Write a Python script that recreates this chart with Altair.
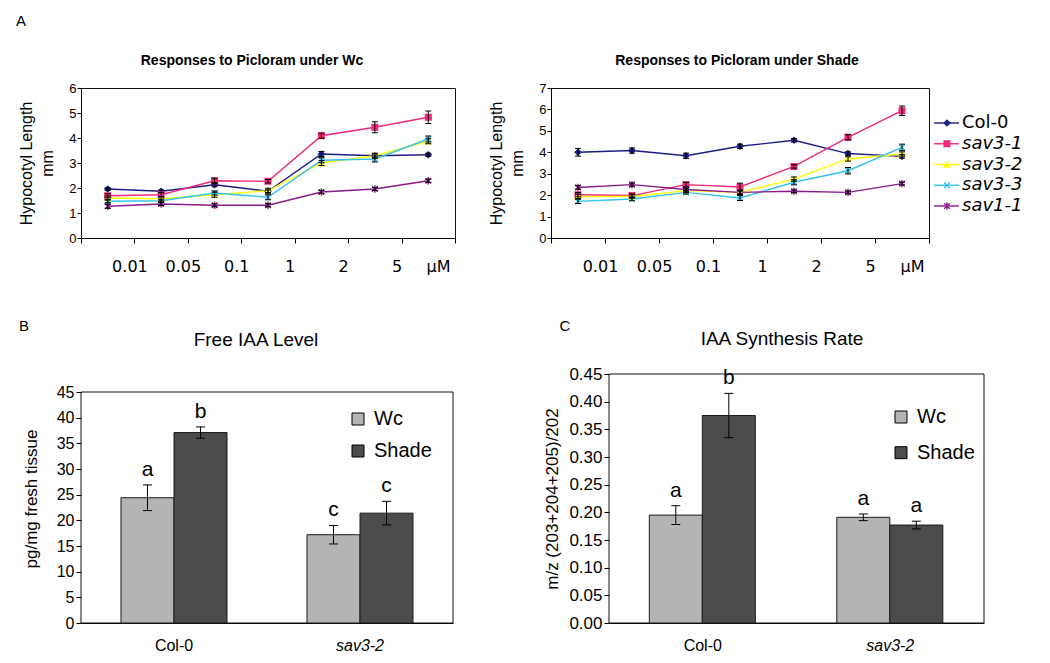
import json
import altair as alt
import pandas as pd

FONT = "Liberation Sans"

# ---------------- Panel A data ----------------
series = ["Col-0", "sav3-1", "sav3-2", "sav3-3", "sav1-1"]
series_colors = ["#1c1c84", "#f0287d", "#ffff00", "#33c3ec", "#8a1a8a"]
series_shapes = ["diamond", "square", "triangle-up",
                 "M-1,-1L1,1M-1,1L1,-1",
                 "M-1,-1L1,1M-1,1L1,-1M0,-1.3L0,1.3"]
dose_tick_labels = ["", "0.01", "0.05", "0.1", "1", "2", "5", "μM"]

wc_col0 = [1.96, 1.87, 2.13, 1.87, 3.36, 3.29, 3.33]
wc_sav31 = [1.69, 1.73, 2.29, 2.27, 4.09, 4.43, 4.83]
wc_sav32 = [1.60, 1.57, 1.73, 1.89, 3.00, 3.29, 3.87]
wc_sav33 = [1.47, 1.49, 1.80, 1.63, 3.11, 3.16, 3.96]
wc_sav11 = [1.27, 1.36, 1.31, 1.31, 1.84, 1.96, 2.29]

wc_col0_err = [0.05, 0.05, 0.08, 0.05, 0.10, 0.08, 0.06]
wc_sav31_err = [0.08, 0.08, 0.10, 0.07, 0.10, 0.22, 0.25]
wc_sav32_err = [0.08, 0.08, 0.10, 0.10, 0.10, 0.10, 0.10]
wc_sav33_err = [0.06, 0.06, 0.08, 0.10, 0.10, 0.12, 0.12]
wc_sav11_err = [0.08, 0.06, 0.06, 0.06, 0.06, 0.06, 0.06]

sh_col0 = [4.00, 4.08, 3.84, 4.28, 4.56, 3.94, 3.81]
sh_sav31 = [2.02, 1.98, 2.49, 2.38, 3.34, 4.70, 5.94]
sh_sav32 = [1.94, 1.94, 2.21, 2.13, 2.75, 3.69, 3.92]
sh_sav33 = [1.71, 1.82, 2.13, 1.87, 2.60, 3.14, 4.23]
sh_sav11 = [2.36, 2.49, 2.26, 2.13, 2.18, 2.13, 2.54]

sh_col0_err = [0.18, 0.12, 0.12, 0.10, 0.08, 0.08, 0.08]
sh_sav31_err = [0.10, 0.08, 0.10, 0.18, 0.08, 0.12, 0.22]
sh_sav32_err = [0.10, 0.08, 0.08, 0.10, 0.10, 0.10, 0.10]
sh_sav33_err = [0.10, 0.08, 0.08, 0.12, 0.12, 0.15, 0.15]
sh_sav11_err = [0.08, 0.07, 0.07, 0.07, 0.06, 0.06, 0.06]

# ---------------- Panels B / C data ----------------
genotypes = ["Col-0", "sav3-2"]
conditions = ["Wc", "Shade"]
bar_fill = ["#b4b4b4", "#4b4b4b"]

free_iaa = [24.4, 37.1, 17.2, 21.4]
free_iaa_err = [2.5, 1.1, 1.8, 2.3]
free_iaa_letters = ["a", "b", "c", "c"]

iaa_rate = [0.195, 0.375, 0.191, 0.177]
iaa_rate_err = [0.017, 0.040, 0.006, 0.007]
iaa_rate_letters = ["a", "b", "a", "a"]


def long_df(vals, errs):
    rows = []
    for s, vl, el in zip(series, vals, errs):
        for i, (v, e) in enumerate(zip(vl, el)):
            rows.append(dict(series=s, step=i, val=v, lo=v - e, hi=v + e))
    return pd.DataFrame(rows)


def label_at(text, dx, dy, size, weight="normal", font=FONT):
    """Panel letter / panel title, placed relative to the plot area."""
    return alt.Chart(pd.DataFrame({"t": [text]})).mark_text(
        font=font, fontSize=size, fontWeight=weight, align="center", baseline="middle",
        color="black"
    ).encode(text="t:N", x=alt.value(dx), y=alt.value(dy))


def line_panel(df, title, ymax, width, title_x, letter=None, legend=False):
    xaxis = alt.Axis(
        values=[i - 0.5 for i in range(8)],
        labelExpr="%s[round(datum.value + 0.5)]" % json.dumps(dose_tick_labels, ensure_ascii=False),
        title=None, grid=False, tickSize=5, labelPadding=15,
        labelFont="DejaVu Sans", labelFontSize=16, labelOffset=-5, labelFlush=True,
    )
    xenc = alt.X("step:Q", scale=alt.Scale(domain=[-0.5, 6.5], nice=False, zero=False), axis=xaxis)
    yaxis = alt.Axis(
        values=list(range(ymax + 1)), format="d", title=["Hypocotyl Length", "mm"],
        grid=False, tickSize=4, labelPadding=1, labelFontSize=13, labelFlush=False,
        titleFontSize=16, titleFontWeight="normal", titleLineHeight=21, titlePadding=13,
    )

    def yenc(f):
        return alt.Y(f"{f}:Q", scale=alt.Scale(domain=[0, ymax], nice=False), axis=yaxis)

    color = alt.Color("series:N", scale=alt.Scale(domain=series, range=series_colors), legend=None)
    shape = alt.Shape("series:N", scale=alt.Scale(domain=series, range=series_shapes), legend=None)
    fill = alt.Fill("series:N", scale=alt.Scale(domain=series, range=series_colors), legend=None)
    stroke = alt.Stroke("series:N", scale=alt.Scale(domain=series, range=series_colors), legend=None)

    base = alt.Chart(df)
    lines = base.mark_line(strokeWidth=1.4).encode(x=xenc, y=yenc("val"), color=color, order="step:Q")
    pts = base.mark_point(size=32, strokeWidth=1.4, opacity=1).encode(
        x=xenc, y=yenc("val"), shape=shape, fill=fill, stroke=stroke)
    err = base.mark_rule(color="black", strokeWidth=1).encode(x=xenc, y=yenc("lo"), y2="hi")
    cap_lo = base.mark_tick(color="black", orient="horizontal", size=6, thickness=1, opacity=1).encode(
        x=xenc, y=yenc("lo"))
    cap_hi = base.mark_tick(color="black", orient="horizontal", size=6, thickness=1, opacity=1).encode(
        x=xenc, y=yenc("hi"))
    layers = [lines, pts, err, cap_lo, cap_hi,
              label_at(title, title_x, -27, 14, weight="bold")]
    if letter:
        layers.append(label_at(letter, -60, -67, 15))
    chart = alt.layer(*layers)

    if legend:
        ldf = pd.DataFrame({"series": series, "idx": list(range(len(series)))})
        ly = alt.Y("idx:Q", scale=alt.Scale(domain=[0, len(series) - 1], range=[35, 118]),
                   axis=None)
        lbase = alt.Chart(ldf)
        l_line = lbase.mark_rule(strokeWidth=1.4).encode(
            x=alt.value(383), x2=alt.value(408), y=ly, color=color)
        l_pts = lbase.mark_point(size=32, strokeWidth=1.4, opacity=1).encode(
            x=alt.value(396), y=ly, shape=shape, fill=fill, stroke=stroke)
        l_txt1 = lbase.transform_filter("datum.series == 'Col-0'").mark_text(
            align="left", baseline="middle", font="DejaVu Sans", fontSize=18, color="black"
        ).encode(x=alt.value(411), y=ly, text="series:N")
        l_txt2 = lbase.transform_filter("datum.series != 'Col-0'").mark_text(
            align="left", baseline="middle", font="DejaVu Sans", fontSize=18, fontStyle="italic",
            color="black"
        ).encode(x=alt.value(411), y=ly, text="series:N")
        leg = alt.layer(l_line, l_pts, l_txt1, l_txt2)
        chart = alt.layer(chart, leg).resolve_scale(y="independent")

    return chart.properties(width=width, height=150)


def bar_df(vals, errs, letters):
    rows = []
    k = 0
    for g in genotypes:
        for c in conditions:
            rows.append(dict(genotype=g, cond=c, val=vals[k], lo=vals[k] - errs[k],
                             hi=vals[k] + errs[k], letter=letters[k]))
            k += 1
    return pd.DataFrame(rows)


def bar_panel(df, title, ymax, yvals, fmt, ytitle, width, height, box_height, title_xy,
              letter, letter_xy, legend_xy, row_pad, lab_size, title_pad):
    # The framed plot box is box_height tall and sits at the bottom of the panel area.
    dom_top = ymax * height / box_height
    x = alt.X("genotype:N", sort=genotypes,
              scale=alt.Scale(domain=genotypes, paddingInner=0.43, paddingOuter=0.215),
              axis=alt.Axis(title=None, labelAngle=0, ticks=False, labelPadding=14,
                            labelFontSize=16,
                            labelFontStyle={"condition": {"test": "datum.value == 'sav3-2'",
                                                          "value": "italic"},
                                            "value": "normal"}))
    xo = alt.XOffset("cond:N", sort=conditions,
                     scale=alt.Scale(domain=conditions, paddingInner=0, paddingOuter=0))
    yaxis = alt.Axis(values=yvals, format=fmt, title=ytitle, grid=False, tickSize=5,
                     labelPadding=2, labelFontSize=lab_size, titleFontSize=17,
                     titleFontWeight="normal", titlePadding=title_pad, labelFlush=False,
                     domain=False)

    def yenc(f):
        return alt.Y(f"{f}:Q", scale=alt.Scale(domain=[0, dom_top], nice=False), axis=yaxis)

    color = alt.Color("cond:N", sort=conditions,
                      scale=alt.Scale(domain=conditions, range=bar_fill),
                      legend=alt.Legend(title=None, orient="none", legendX=legend_xy[0],
                                        legendY=legend_xy[1], direction="vertical",
                                        symbolType="square", symbolSize=144,
                                        symbolStrokeColor="black", symbolStrokeWidth=1,
                                        symbolOpacity=1, labelFontSize=20, labelFont=FONT,
                                        labelColor="black", rowPadding=row_pad, labelOffset=6,
                                        padding=0))
    base = alt.Chart(df)
    frame = alt.Chart(pd.DataFrame({"top": [ymax]})).mark_rect(
        fill="white", fillOpacity=0, stroke="#111", strokeWidth=1
    ).encode(x=alt.value(0), x2=alt.value(width), y=yenc("top"), y2=alt.datum(0))
    bars = base.mark_bar(stroke="#1a1a1a", strokeWidth=1, opacity=1).encode(
        x=x, xOffset=xo, y=yenc("val"), color=color)
    err = base.mark_rule(color="black", strokeWidth=1).encode(x=x, xOffset=xo, y=yenc("lo"), y2="hi")
    cap_lo = base.mark_tick(color="black", orient="horizontal", size=9, thickness=1, opacity=1).encode(
        x=x, xOffset=xo, y=yenc("lo"))
    cap_hi = base.mark_tick(color="black", orient="horizontal", size=9, thickness=1, opacity=1).encode(
        x=x, xOffset=xo, y=yenc("hi"))
    txt = base.mark_text(baseline="alphabetic", dy=-9, fontSize=21, font=FONT, color="black").encode(
        x=x, xOffset=xo, y=yenc("hi"), text="letter:N")
    return alt.layer(
        frame, bars, err, cap_lo, cap_hi, txt,
        label_at(title, title_xy[0], title_xy[1], 19),
        label_at(letter, letter_xy[0], letter_xy[1], 15),
    ).properties(width=width, height=height,
                 view=alt.ViewBackground(stroke="transparent"))


df_wc = long_df([wc_col0, wc_sav31, wc_sav32, wc_sav33, wc_sav11],
                [wc_col0_err, wc_sav31_err, wc_sav32_err, wc_sav33_err, wc_sav11_err])
df_sh = long_df([sh_col0, sh_sav31, sh_sav32, sh_sav33, sh_sav11],
                [sh_col0_err, sh_sav31_err, sh_sav32_err, sh_sav33_err, sh_sav11_err])

top_left = line_panel(df_wc, "Responses to Picloram under Wc", 6, 374, 171, letter="A")
top_right = line_panel(df_sh, "Responses to Picloram under Shade", 7, 378, 186, legend=True)

panel_b = bar_panel(bar_df(free_iaa, free_iaa_err, free_iaa_letters), "Free IAA Level",
                    45, [5 * i for i in range(10)], "d", "pg/mg fresh tissue",
                    372, 249, 231, (175, -34), "B", (-57, -48), (267, 35), 12, 16, 16)
panel_c = bar_panel(bar_df(iaa_rate, iaa_rate_err, iaa_rate_letters), "IAA Synthesis Rate",
                    0.45, [round(0.05 * i, 2) for i in range(10)], ".2f", "m/z (203+204+205)/202",
                    375, 249, 249, (173, -35), "C", (-44, -48), (282, 33), 15.7, 17, 7)

row1 = alt.hconcat(top_left, top_right, spacing=96, bounds="flush")
row2 = alt.hconcat(panel_b, panel_c, spacing=89).resolve_scale(color="independent")

chart = alt.vconcat(row1, row2, spacing=43).resolve_scale(
    color="independent", fill="independent", stroke="independent", shape="independent"
).properties(
    padding={"left": 7, "top": 5, "right": 5, "bottom": 5}
).configure_axis(
    labelFont=FONT, titleFont=FONT, labelColor="black", titleColor="black",
    domainColor="black", tickColor="black", grid=False,
).configure_view(stroke="#111", strokeWidth=1).configure_legend(labelFont=FONT)

chart.save("out.html", embed_options={"renderer": "svg", "actions": False})
